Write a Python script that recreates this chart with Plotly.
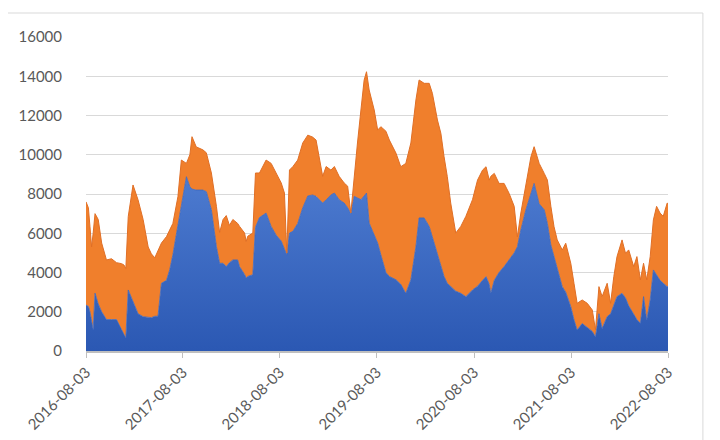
import plotly.graph_objects as go

dates = [
    "2016-08-03", "2016-08-12", "2016-08-18", "2016-08-24", "2016-08-30", "2016-09-06", "2016-09-18",
    "2016-10-01", "2016-10-19", "2016-11-07", "2016-11-26", "2016-12-15", "2016-12-24", "2016-12-31",
    "2017-01-09", "2017-01-27", "2017-02-15", "2017-03-06", "2017-03-25", "2017-04-06", "2017-04-19",
    "2017-05-01", "2017-05-14", "2017-06-02", "2017-06-14", "2017-06-26", "2017-07-15", "2017-07-28",
    "2017-08-16", "2017-08-29", "2017-09-06", "2017-09-22", "2017-10-17", "2017-10-30", "2017-11-18",
    "2017-12-07", "2017-12-19", "2018-01-01", "2018-01-13", "2018-01-25", "2018-02-07", "2018-02-25",
    "2018-03-04", "2018-03-23", "2018-03-29", "2018-04-04", "2018-04-23", "2018-05-03", "2018-05-18",
    "2018-06-12", "2018-07-01", "2018-07-20", "2018-08-08", "2018-08-20", "2018-08-29", "2018-09-08",
    "2018-09-21", "2018-10-09", "2018-10-28", "2018-11-16", "2018-12-04", "2018-12-17", "2018-12-30",
    "2019-01-11", "2019-01-24", "2019-02-11", "2019-02-24", "2019-03-14", "2019-04-02", "2019-04-15",
    "2019-04-27", "2019-05-10", "2019-05-22", "2019-06-04", "2019-06-16", "2019-06-25", "2019-07-05",
    "2019-07-24", "2019-08-06", "2019-08-18", "2019-09-06", "2019-09-19", "2019-10-14", "2019-11-01",
    "2019-11-20", "2019-12-09", "2019-12-28", "2020-01-09", "2020-01-28", "2020-02-16", "2020-02-28",
    "2020-03-18", "2020-03-31", "2020-04-12", "2020-04-24", "2020-05-07", "2020-05-26", "2020-06-14",
    "2020-07-03", "2020-07-28", "2020-08-16", "2020-09-04", "2020-09-17", "2020-09-29", "2020-10-05",
    "2020-10-18", "2020-11-05", "2020-11-24", "2020-12-13", "2021-01-01", "2021-01-13", "2021-01-26",
    "2021-02-14", "2021-03-05", "2021-03-17", "2021-04-05", "2021-04-24", "2021-05-06", "2021-05-19",
    "2021-05-31", "2021-06-12", "2021-07-01", "2021-07-14", "2021-08-02", "2021-08-14", "2021-08-26",
    "2021-09-14", "2021-10-03", "2021-10-22", "2021-11-03", "2021-11-16", "2021-11-28", "2021-12-17",
    "2021-12-30", "2022-01-11", "2022-01-23", "2022-02-11", "2022-02-24", "2022-03-08", "2022-03-27",
    "2022-04-08", "2022-04-21", "2022-05-03", "2022-05-15", "2022-05-28", "2022-06-09", "2022-06-21",
    "2022-07-04", "2022-07-16", "2022-07-31", "2022-08-03",
]

total_values = [
    7600, 7300, 6330, 5300, 6000, 7000, 6700,
    5500, 4640, 4700, 4500, 4450, 4380, 4200,
    6850, 8460, 7700, 6700, 5300, 4950, 4750,
    5100, 5500, 5830, 6200, 6500, 7860, 9730,
    9560, 10000, 10920, 10400, 10250, 10100, 9070,
    7370, 6040, 6700, 6900, 6400, 6700, 6500,
    6350, 6010, 5580, 5850, 6010, 9070, 9070,
    9730, 9560, 9070, 8560, 8050, 4990, 9220,
    9400, 9730, 10600, 11000, 10900, 10750, 9730,
    8900, 9400, 9220, 9400, 8900, 8560, 8400,
    7030, 9070, 10600, 12280, 13800, 14230, 13300,
    12280, 11260, 11430, 11200, 10750, 10080, 9390,
    9560, 10600, 12790, 13810, 13640, 13640, 13130,
    11770, 11090, 9900, 8900, 7540, 6010, 6350,
    6860, 7710, 8710, 9220, 9390, 8710, 8900,
    9050, 8540, 8540, 8030, 7370, 5810, 7030,
    8370, 9900, 10410, 9560, 9050, 8710, 7370,
    6330, 5660, 5150, 5490, 4470, 3450, 2430,
    2600, 2430, 2090, 1070, 3280, 2770, 3450,
    2430, 3790, 4810, 5660, 4980, 5150, 4300,
    4810, 3620, 4470, 3620, 4810, 6680, 7370,
    7030, 6860, 7540, 7500,
]

base_values = [
    2340, 2270, 2000, 1430, 1090, 2950, 2400,
    2000, 1600, 1600, 1600, 1090, 800, 660,
    3110, 2500, 1900, 1750, 1700, 1700, 1770,
    1770, 3450, 3600, 4130, 4900, 6400, 7500,
    8880, 8370, 8250, 8200, 8200, 8120, 7200,
    5310, 4470, 4470, 4300, 4500, 4640, 4640,
    4300, 3900, 3720, 3800, 3890, 6300, 6800,
    7030, 6350, 5900, 5600, 5200, 4890, 6010,
    6100, 6500, 7300, 7900, 7950, 7880, 7700,
    7540, 7700, 7950, 8050, 7710, 7540, 7300,
    7000, 7880, 7800, 7710, 7900, 8050, 6520,
    5900, 5500, 4900, 4000, 3800, 3630, 3400,
    2940, 3630, 5310, 6780, 6780, 6350, 5800,
    4900, 4300, 3800, 3450, 3300, 3050, 2940,
    2770, 3110, 3300, 3600, 3790, 3400, 2940,
    3600, 4000, 4300, 4640, 5000, 5310, 6170,
    7190, 8000, 8540, 7500, 7200, 6500, 5400,
    4810, 4200, 3280, 3000, 2260, 1600, 1070,
    1400, 1200, 1000, 730, 1900, 1150, 1750,
    1900, 2300, 2770, 2940, 2700, 2300, 1900,
    1600, 1410, 2770, 1580, 2600, 4130, 3900,
    3600, 3450, 3280, 3300,
]

tick_dates = ["2016-08-03", "2017-08-03", "2018-08-03", "2019-08-03",
              "2020-08-03", "2021-08-03", "2022-08-03"]
y_ticks = [0, 2000, 4000, 6000, 8000, 10000, 12000, 14000, 16000]
y_tick_labels = ["0", "2000", "4000", "6000", "8000", "10000", "12000", "14000", "16000"]

font_family = "Lato, 'Liberation Sans', sans-serif"
label_color = "#595959"

fig = go.Figure()
fig.add_trace(go.Scatter(
    x=dates, y=base_values, mode="lines",
    line=dict(color="#3a67c0", width=0.8),
    fill="tozeroy",
    fillgradient=dict(type="vertical",
                      colorscale=[[0, "#2b58b3"], [1, "#4d7bd0"]]),
    showlegend=False, hoverinfo="skip",
))
fig.add_trace(go.Scatter(
    x=dates, y=total_values, mode="lines",
    line=dict(color="#e06f26", width=1),
    fill="tonexty", fillcolor="#f07f2c",
    showlegend=False, hoverinfo="skip",
))

fig.add_shape(type="rect", xref="paper", yref="paper",
              x0=-0.1357, x1=1.060, y0=-0.4, y1=1.0764,
              line=dict(color="#d9d9d9", width=1), layer="below")

fig.update_layout(
    width=712, height=432,
    margin=dict(l=78, r=52, t=29, b=89),
    paper_bgcolor="white", plot_bgcolor="white",
    font=dict(family=font_family, size=15, color=label_color),
    xaxis=dict(
        type="date",
        range=["2016-08-03", "2022-08-03"],
        tickvals=tick_dates, ticktext=tick_dates,
        tickangle=-45,
        showgrid=False, zeroline=False,
        showline=True, linecolor="#bfbfbf", linewidth=1.5,
        ticks="outside", ticklen=5, tickcolor="#bfbfbf",
        tickfont=dict(size=15, color=label_color),
        automargin=False,
    ),
    yaxis=dict(
        range=[0, 16000],
        tickvals=y_ticks, ticktext=y_tick_labels,
        showgrid=True, gridcolor="#d9d9d9", gridwidth=1,
        zeroline=False, showline=False,
        ticks="", ticklabelstandoff=23,
        tickfont=dict(size=15, color=label_color),
        automargin=False,
    ),
)

fig.write_html("out.html")
